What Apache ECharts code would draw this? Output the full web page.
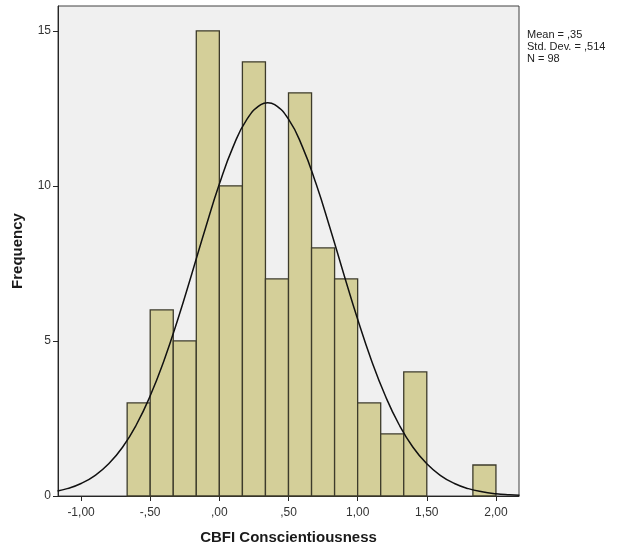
<!DOCTYPE html>
<html>
<head>
<meta charset="utf-8">
<script src="https://cdn.jsdelivr.net/npm/echarts@6/dist/echarts.min.js"></script>
<style>
html,body{margin:0;padding:0;background:#fff;}
#chart{width:630px;height:552px;}
</style>
</head>
<body>
<div id="chart"></div>
<script>
// Histogram bins (edges in units of the variable), counts
var binStarts = [-0.6667, -0.5, -0.3333, -0.1667, 0, 0.1667, 0.3333, 0.5, 0.6667, 0.8333, 1.0, 1.1667, 1.3333, 1.8333];
var binEnds   = [-0.5, -0.3333, -0.1667, 0, 0.1667, 0.3333, 0.5, 0.6667, 0.8333, 1.0, 1.1667, 1.3333, 1.5, 2.0];
var counts    = [3, 6, 5, 15, 10, 14, 7, 13, 8, 7, 3, 2, 4, 1];

// Normal curve points (Mean = ,35; Std. Dev. = ,514; N = 98)
var curveX = [-1.17, -1.1, -1.0, -0.9, -0.8, -0.7, -0.6, -0.5, -0.4, -0.3, -0.2, -0.1, 0.0, 0.1, 0.2, 0.3, 0.35, 0.4, 0.5, 0.6, 0.7, 0.8, 0.9, 1.0, 1.1, 1.2, 1.3, 1.4, 1.5, 1.6, 1.7, 1.8, 1.9, 2.0, 2.1, 2.17];
var curveY = [0.160, 0.237, 0.403, 0.659, 1.038, 1.573, 2.298, 3.231, 4.372, 5.700, 7.153, 8.643, 10.057, 11.265, 12.151, 12.620, 12.680, 12.620, 12.151, 11.265, 10.057, 8.643, 7.153, 5.700, 4.372, 3.231, 2.298, 1.573, 1.038, 0.659, 0.403, 0.237, 0.134, 0.073, 0.039, 0.024];

// Tick labels
var xTicks = [-1.0, -0.5, 0.0, 0.5, 1.0, 1.5, 2.0];
var yTicks = [0, 5, 10, 15];
var statsLines = ['Mean = ,35', 'Std. Dev. = ,514', 'N = 98'];

function fmtX(v) {
  var s = Number(v).toFixed(2);
  s = s.replace(/^(-?)0\./, '$1,').replace('.', ',');
  return s;
}

var histData = binStarts.map(function (s, i) { return [s, binEnds[i], counts[i]]; });
var curveData = curveX.map(function (x, i) { return [x, curveY[i]]; });

var chart = echarts.init(document.getElementById('chart'), null, {renderer: 'canvas'});
var font = 'Arial, "Liberation Sans", sans-serif';
chart.setOption({
  animation: false,
  backgroundColor: '#ffffff',
  grid: {
    left: 58, right: 111, top: 6, bottom: 56,
    containLabel: false,
    outerBoundsMode: 'none',
    show: true, backgroundColor: '#f0f0f0', borderColor: '#404040', borderWidth: 1
  },
  xAxis: {
    type: 'value',
    min: -1.1667, max: 2.1667,
    name: 'CBFI Conscientiousness',
    nameLocation: 'middle',
    nameGap: 34,
    nameTextStyle: {fontFamily: font, fontSize: 15, fontWeight: 'bold', color: '#1a1a1a'},
    axisLine: {show: true, onZero: false, lineStyle: {color: '#262626', width: 1}},
    axisTick: {show: true, length: 5, customValues: xTicks, lineStyle: {color: '#262626'}},
    axisLabel: {customValues: xTicks, formatter: fmtX, fontFamily: font, fontSize: 12, color: '#333', margin: 11},
    splitLine: {show: false}
  },
  yAxis: {
    type: 'value',
    min: 0, max: 15.8,
    name: 'Frequency',
    nameLocation: 'middle',
    nameGap: 33,
    nameTextStyle: {fontFamily: font, fontSize: 15, fontWeight: 'bold', color: '#1a1a1a'},
    axisLine: {show: true, onZero: false, lineStyle: {color: '#262626', width: 1}},
    axisTick: {show: true, length: 5, customValues: yTicks, lineStyle: {color: '#262626'}},
    axisLabel: {customValues: yTicks, fontFamily: font, fontSize: 12, color: '#333', margin: 7},
    splitLine: {show: false}
  },
  series: [
    {
      type: 'custom',
      data: histData,
      encode: {x: [0, 1], y: 2},
      renderItem: function (params, api) {
        var p0 = api.coord([api.value(0), api.value(2)]);
        var p1 = api.coord([api.value(1), 0]);
        return {
          type: 'rect',
          shape: {x: p0[0], y: p0[1], width: p1[0] - p0[0], height: p1[1] - p0[1]},
          style: {fill: '#d4cf99', stroke: '#3d3b2b', lineWidth: 1.3}
        };
      },
      z: 2
    },
    {
      type: 'line',
      data: curveData,
      smooth: true,
      showSymbol: false,
      symbol: 'none',
      lineStyle: {color: '#111', width: 1.5},
      z: 3
    }
  ],
  graphic: [
    {
      type: 'text',
      left: 527, top: 29,
      style: {
        text: statsLines.join('\n'),
        fontFamily: font, fontSize: 11, lineHeight: 12, fill: '#222'
      }
    }
  ]
});
</script>
</body>
</html>
